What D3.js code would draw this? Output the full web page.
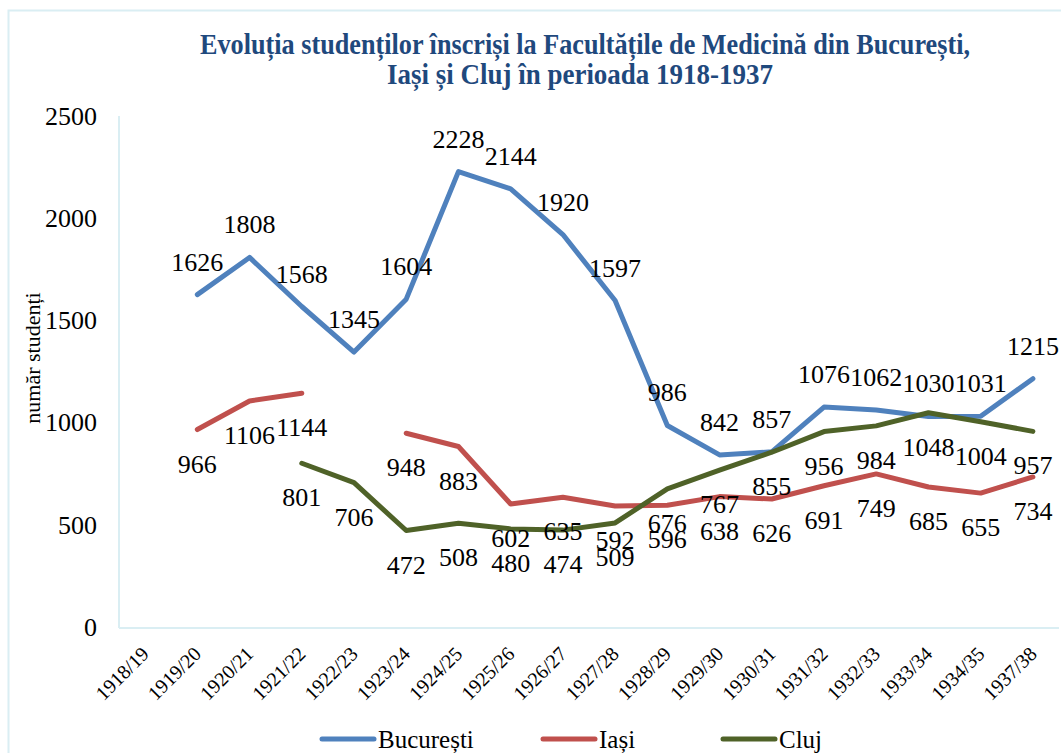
<!DOCTYPE html>
<html>
<head>
<meta charset="utf-8">
<script src="https://cdn.jsdelivr.net/npm/d3@7"></script>
<style>
  body { margin: 0; background: #fff; }
</style>
</head>
<body>
<div id="chart"></div>
<script>
// --- data ---
var years = ["1918/19", "1919/20", "1920/21", "1921/22", "1922/23", "1923/24", "1924/25",
  "1925/26", "1926/27", "1927/28", "1928/29", "1929/30", "1930/31", "1931/32",
  "1932/33", "1933/34", "1934/35", "1937/38"];
var bucuresti = [null, 1626, 1808, 1568, 1345, 1604, 2228, 2144, 1920, 1597, 986, 842, 857, 1076, 1062, 1030, 1031, 1215];
var iasi = [null, 966, 1106, 1144, null, 948, 883, 602, 635, 592, 596, 638, 626, 691, 749, 685, 655, 734];
var cluj = [null, null, null, 801, 706, 472, 508, 480, 474, 509, 676, 767, 855, 956, 984, 1048, 1004, 957];
var seriesNames = ["București", "Iași", "Cluj"];
var yTicks = [0, 500, 1000, 1500, 2000, 2500];
var titleLines = ["Evoluția studenților înscriși la Facultățile de Medicină din București,",
  "Iași și Cluj în perioada 1918-1937"];

// --- layout ---
var width = 1061, height = 753;
var margin = {top: 116, right: 2, bottom: 126, left: 119};
var colors = ["#4F81BD", "#C0504D", "#4F6228"];
var frameColor = "#DAEEF3";
var serif = "'Liberation Serif', 'Times New Roman', Times, serif";

var svg = d3.select("#chart").append("svg")
  .attr("width", width).attr("height", height)
  .style("font-family", serif);

svg.append("rect").attr("width", width).attr("height", height).attr("fill", "#fff");
// outer chart frame
svg.append("rect")
  .attr("x", 8.5).attr("y", 10.5).attr("width", width + 10).attr("height", height + 10)
  .attr("fill", "none").attr("stroke", frameColor).attr("stroke-width", 2);

var x = d3.scaleBand().domain(years).range([margin.left, width - margin.right]).padding(0);
var y = d3.scaleLinear().domain([0, 2500]).range([height - margin.bottom, margin.top]);
var cx = function(d) { return x(d) + x.bandwidth() / 2; };

// title
svg.append("g").selectAll("text").data(titleLines).enter().append("text")
  .attr("x", function(d, i) { return i == 0 ? 585 : 580; })
  .attr("y", function(d, i) { return 54 + i * 30; })
  .attr("text-anchor", "middle")
  .attr("font-size", 29).attr("font-weight", "bold").attr("fill", "#1F497D")
  .attr("textLength", function(d, i) { return i == 0 ? 770 : 386; })
  .attr("lengthAdjust", "spacingAndGlyphs")
  .style("font-family", serif)
  .text(function(d) { return d; });

// plot border lines (left and bottom)
svg.append("line")
  .attr("x1", margin.left).attr("x2", margin.left)
  .attr("y1", margin.top).attr("y2", y(0) + 1)
  .attr("stroke", frameColor).attr("stroke-width", 2);
svg.append("line")
  .attr("x1", margin.left).attr("x2", width - margin.right)
  .attr("y1", y(0) + 1).attr("y2", y(0) + 1)
  .attr("stroke", frameColor).attr("stroke-width", 2);

// y axis
var yAxis = svg.append("g")
  .attr("transform", "translate(" + (margin.left - 22) + ",0)")
  .call(d3.axisLeft(y).tickValues(yTicks).tickFormat(d3.format("d")).tickSize(0).tickPadding(0));
yAxis.select(".domain").remove();
yAxis.selectAll("text")
  .style("font-family", serif).attr("font-size", 26).attr("fill", "#000");

// x axis
var xAxis = svg.append("g")
  .attr("transform", "translate(0," + (y(0) + 1) + ")")
  .call(d3.axisBottom(x).tickSize(0));
xAxis.select(".domain").remove();
xAxis.selectAll("text")
  .style("font-family", serif).attr("font-size", 20).attr("fill", "#000")
  .attr("text-anchor", "end")
  .attr("dy", "0.35em")
  .attr("transform", "translate(-2,20) rotate(-45)");

// y axis title
svg.append("text")
  .attr("transform", "translate(40,358) rotate(-90)")
  .attr("text-anchor", "middle")
  .attr("font-size", 22)
  .style("font-family", serif)
  .text("număr studenți");

// lines
var allSeries = [bucuresti, iasi, cluj];
var line = d3.line()
  .defined(function(d) { return d != null; })
  .x(function(d, i) { return cx(years[i]); })
  .y(function(d) { return y(d); });

allSeries.forEach(function(vector, s) {
  svg.append("path")
    .datum(vector)
    .attr("d", line)
    .attr("fill", "none")
    .attr("stroke", colors[s])
    .attr("stroke-width", 5)
    .attr("stroke-linejoin", "round")
    .attr("stroke-linecap", "round");
});

// data labels: București above, the other two below
allSeries.forEach(function(vector, s) {
  svg.append("g").selectAll("text")
    .data(vector.map(function(v, i) { return {v: v, i: i}; }).filter(function(d) { return d.v != null; }))
    .enter().append("text")
    .attr("x", function(d) { return cx(years[d.i]); })
    .attr("y", function(d) { return y(d.v) + (s == 0 ? -24 : 43); })
    .attr("text-anchor", "middle")
    .attr("font-size", 26)
    .style("font-family", serif)
    .text(function(d) { return d.v; });
});

// legend
var legendX = [322, 543, 723];
var legend = svg.append("g").selectAll("g").data(seriesNames).enter().append("g")
  .attr("transform", function(d, i) { return "translate(" + legendX[i] + ",739)"; });
legend.append("line")
  .attr("x1", 0).attr("x2", 52)
  .attr("stroke", function(d, i) { return colors[i]; })
  .attr("stroke-width", 5).attr("stroke-linecap", "round");
legend.append("text")
  .attr("x", 56).attr("y", 9)
  .attr("font-size", 25)
  .style("font-family", serif)
  .text(function(d) { return d; });
</script>
</body>
</html>
